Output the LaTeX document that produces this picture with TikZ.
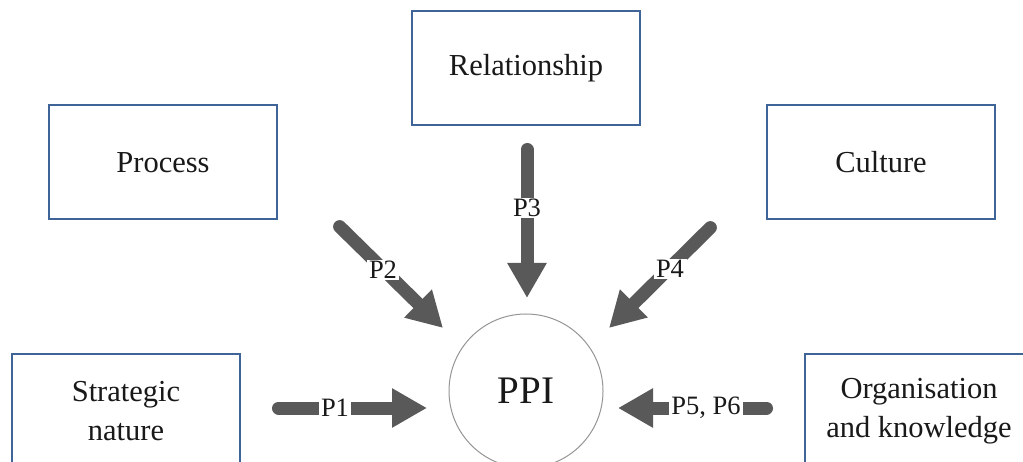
\documentclass[tikz,border=0pt]{standalone}
\usepackage{fontspec}
\setmainfont{Liberation Serif}
\usetikzlibrary{arrows.meta}
\definecolor{boxblue}{RGB}{62,100,152}
\definecolor{arrowgray}{RGB}{89,89,89}
\definecolor{ringgray}{RGB}{150,150,150}
\definecolor{inkblack}{RGB}{25,25,25}
\tikzset{
  factor/.style={draw=boxblue, line width=2pt, fill=white, rectangle,
    minimum width=228pt, minimum height=114pt, align=center, text=inkblack,
    font=\fontsize{30.5}{39}\selectfont},
  fatarrow/.style={draw=arrowgray, line width=13pt, line cap=round,
    -{Triangle[width=37pt,length=35pt]}},
  plabel/.style={fill=white, text=inkblack, inner xsep=2.5pt, inner ysep=1pt,
    font=\fontsize{26.5}{29}\selectfont},
}
\begin{document}
\begin{tikzpicture}[x=1pt,y=-1pt]
  \clip (0,0) rectangle (1023,462);
  \fill[white] (0,0) rectangle (1023,462);

  % factor boxes
  \node[factor] (rel)   at (526,68)    {Relationship};
  \node[factor] (proc)  at (163,162.5) {Process};
  \node[factor] (cult)  at (881,162.5) {Culture};
  \node[factor] (strat) at (126,411)   {Strategic\\nature};
  \node[factor] (org)   at (919,411)   {Organisation\\and knowledge};

  % central construct
  \node[circle, draw=ringgray, line width=1pt, minimum size=154pt, text=inkblack,
        font=\fontsize{39}{44}\selectfont] (ppi) at (526,391) {PPI};

  % arrow end points
  \coordinate (t1) at (278.5,408);  \coordinate (h1) at (427,408);
  \coordinate (t2) at (339.6,226.6); \coordinate (h2) at (443,328);
  \coordinate (t3) at (527,149.5);  \coordinate (h3) at (527,298);
  \coordinate (t4) at (710.4,227.6); \coordinate (h4) at (609,328);
  \coordinate (t5) at (766.5,408);  \coordinate (h5) at (618,408);

  % propositions
  \draw[fatarrow] (t1) -- (h1);
  \draw[fatarrow] (t2) -- (h2);
  \draw[fatarrow] (t3) -- (h3);
  \draw[fatarrow] (t4) -- (h4);
  \draw[fatarrow] (t5) -- (h5);

  \node[plabel] (l1) at (335,408) {P1};
  \node[plabel] (l2) at (383,270) {P2};
  \node[plabel] (l3) at (527,208) {P3};
  \node[plabel] (l4) at (670,269) {P4};
  \node[plabel] (l5) at (706,408) {P5, P6};
\end{tikzpicture}
\end{document}
